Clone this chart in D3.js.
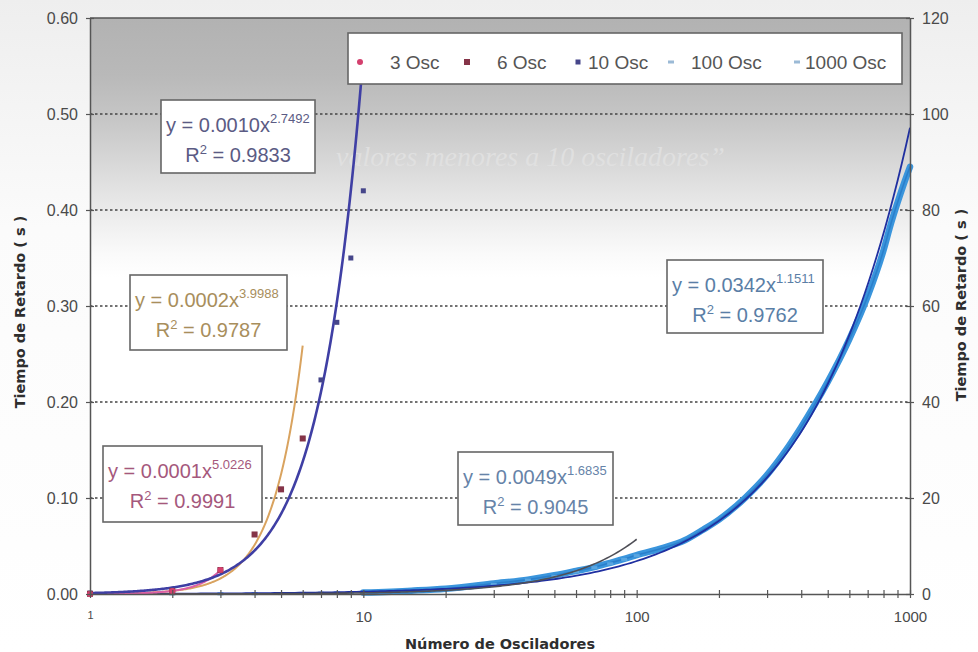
<!DOCTYPE html>
<html>
<head>
<meta charset="utf-8">
<script src="https://cdn.jsdelivr.net/npm/d3@7"></script>
<style>
  body { margin: 0; background: #fff; }
  svg { display: block; }
</style>
</head>
<body>
<svg id="chart" width="978" height="652"></svg>
<script>
// ---- Measured delay time per number of oscillators ----
const seriesNames = ["3 Osc", "6 Osc", "10 Osc", "100 Osc", "1000 Osc"];

// 3, 6 and 10 oscillators: left axis (seconds, 0 - 0.60)
const osc3X = [1, 2, 3];
const osc3Y = [0.0001, 0.003, 0.025];

const osc6X = [1, 2, 3, 4, 5, 6];
const osc6Y = [0.0002, 0.003, 0.025, 0.062, 0.109, 0.162];

const osc10X = [1, 2, 3, 4, 5, 6, 7, 8, 9, 10];
const osc10Y = [0.001, 0.004, 0.025, 0.062, 0.109, 0.162, 0.223, 0.283, 0.350, 0.420];

// 100 and 1000 oscillators: right axis (seconds, 0 - 120)
const osc100X = [1, 2, 3, 4, 5, 6, 7, 8, 9, 10, 20, 30, 40, 50, 60, 70, 80, 90, 100];
const osc100Y = [0.01, 0.02, 0.04, 0.06, 0.09, 0.12, 0.15, 0.19, 0.23, 0.28, 0.9, 2.0, 2.9, 3.7, 4.6, 5.5, 6.3, 7.2, 8.0];

const osc1000X = [10, 15, 20, 30, 40, 50, 60, 70, 80, 90, 100, 125, 150, 175, 200, 250, 300, 350, 400, 450, 500, 600, 700, 800, 850, 900, 950, 1000];
const osc1000Y = [0.3, 0.7, 1.1, 2.2, 3.0, 3.9, 4.8, 5.6, 6.5, 7.3, 8.1, 9.6, 11.2, 13.4, 15.5, 20.1, 24.8, 29.8, 34.8, 39.6, 44.2, 53.1, 62.0, 71.6, 77.0, 81.5, 85.5, 89.0];

// Power trend lines y = a * x^b
const trendCoef = [0.0001, 0.0002, 0.0010, 0.0049, 0.0342];
const trendCoefText = ["0.0001", "0.0002", "0.0010", "0.0049", "0.0342"];
const trendExp = [5.0226, 3.9988, 2.7492, 1.6835, 1.1511];
const trendR2 = [0.9991, 0.9787, 0.9833, 0.9045, 0.9762];

// Axis ticks
const leftTicks = [0, 0.1, 0.2, 0.3, 0.4, 0.5, 0.6];
const rightTicks = [0, 20, 40, 60, 80, 100, 120];
const xLabelTicks = [1, 10, 100, 1000];

const svg = d3.select("#chart");
const W = 978, H = 652;
const L = 90, R = 910, T = 18, B = 594;

const x = d3.scaleLog().domain([1, 1000]).range([L, R]);
const yL = d3.scaleLinear().domain([0, 0.6]).range([B, T]);
const yR = d3.scaleLinear().domain([0, 120]).range([B, T]);

// ---- backgrounds ----
const defs = svg.append("defs");
const pageGrad = defs.append("linearGradient").attr("id", "pageGrad")
  .attr("x1", 0).attr("y1", 0).attr("x2", 0).attr("y2", 1);
pageGrad.append("stop").attr("offset", "0%").attr("stop-color", "#eeeeee");
pageGrad.append("stop").attr("offset", "35%").attr("stop-color", "#fbfbfb");
pageGrad.append("stop").attr("offset", "100%").attr("stop-color", "#ffffff");
svg.append("rect").attr("width", W).attr("height", H).attr("fill", "url(#pageGrad)");

const plotGrad = defs.append("linearGradient").attr("id", "plotGrad")
  .attr("x1", 0).attr("y1", 0).attr("x2", 0).attr("y2", 1);
[["0%", "#b2b2b2"], ["10%", "#b9b9b9"], ["18%", "#c7c7c7"], ["27%", "#dcdcdc"],
 ["35%", "#eeeeee"], ["41%", "#fafafa"], ["45%", "#ffffff"], ["100%", "#ffffff"]]
  .forEach(([o, c]) => plotGrad.append("stop").attr("offset", o).attr("stop-color", c));
svg.append("rect").attr("x", L).attr("y", T).attr("width", R - L).attr("height", B - T)
  .attr("fill", "url(#plotGrad)");

// faint show-through text on the paper
svg.append("text")
  .attr("x", 336).attr("y", 166)
  .attr("font-family", "Liberation Serif, serif")
  .attr("font-style", "italic")
  .attr("font-size", 28)
  .attr("fill", "#e2e2e2")
  .attr("opacity", 0.85)
  .text("valores menores a 10 osciladores”");

// ---- gridlines ----
svg.append("g").selectAll("line")
  .data(leftTicks.filter(v => v > 0 && v < 0.6))
  .join("line")
  .attr("x1", L).attr("x2", R)
  .attr("y1", d => yL(d)).attr("y2", d => yL(d))
  .attr("stroke", "#444").attr("stroke-width", 1.3)
  .attr("stroke-dasharray", "2.5,2.5");

// ---- plot frame ----
svg.append("line").attr("x1", L).attr("x2", R).attr("y1", T).attr("y2", T)
  .attr("stroke", "#555").attr("stroke-width", 1.5);

// ---- 1000 Osc measurements (dense band) ----
const line1000 = d3.line().x((d, i) => x(osc1000X[i])).y(d => yR(d)).curve(d3.curveMonotoneX);
svg.append("path").attr("d", line1000(osc1000Y))
  .attr("fill", "none").attr("stroke", "#3a95dc").attr("stroke-width", 6.5)
  .attr("stroke-linejoin", "round").attr("stroke-linecap", "round");
svg.append("path").attr("d", line1000(osc1000Y))
  .attr("fill", "none").attr("stroke", "#2b7fcb").attr("stroke-width", 1.6);

// ---- 100 Osc markers ----
svg.append("g").selectAll("rect")
  .data(osc100Y)
  .join("rect")
  .attr("x", (d, i) => x(osc100X[i]) - 3).attr("y", d => yR(d) - 1.5)
  .attr("width", 6).attr("height", 3)
  .attr("fill", "#5aa6e0");

// ---- trend lines ----
const trendColors = ["#dc5fa6", "#d9a35f", "#3f3fa4", "#4f4f57", "#1f2fa0"];
const trendWidths = [2, 2, 2.6, 1.6, 1.8];
const trendRange = [[1, 3], [1, 6], [1, 10], [1, 100], [1, 1000]];
const trendScale = [yL, yL, yL, yR, yR];
const trendOrder = [4, 3, 1, 0, 2];
trendOrder.forEach(k => {
  const [x0, x1] = trendRange[k];
  const pts = d3.range(0, 201).map(j => {
    const xv = x0 * Math.pow(x1 / x0, j / 200);
    return [xv, trendCoef[k] * Math.pow(xv, trendExp[k])];
  });
  svg.append("path")
    .attr("d", d3.line().x(p => x(p[0])).y(p => trendScale[k](p[1]))(pts))
    .attr("fill", "none").attr("stroke", trendColors[k]).attr("stroke-width", trendWidths[k]);
});

// ---- markers of the small series ----
svg.append("g").selectAll("rect")
  .data(osc10Y)
  .join("rect")
  .attr("x", (d, i) => x(osc10X[i]) - 2.5).attr("y", d => yL(d) - 2.5)
  .attr("width", 5).attr("height", 5)
  .attr("fill", "#46468a");
svg.append("g").selectAll("rect")
  .data(osc6Y)
  .join("rect")
  .attr("x", (d, i) => x(osc6X[i]) - 3).attr("y", d => yL(d) - 3)
  .attr("width", 6).attr("height", 6)
  .attr("fill", "#853448");
svg.append("g").selectAll("circle")
  .data(osc3Y)
  .join("circle")
  .attr("cx", (d, i) => x(osc3X[i])).attr("cy", d => yL(d))
  .attr("r", 3)
  .attr("fill", "#d4406e");

// ---- axes ----
const tickFont = "Liberation Sans, Arial, sans-serif";
function styleAxis(g, fontSize) {
  g.select(".domain").attr("stroke", "#555").attr("stroke-width", 1.5);
  g.selectAll(".tick line").attr("stroke", "#555").attr("stroke-width", 1.2);
  g.selectAll(".tick text").attr("fill", "#4a4a4a")
    .attr("font-family", tickFont).attr("font-size", fontSize);
}

const gLeft = svg.append("g").attr("transform", `translate(${L},0)`)
  .call(d3.axisLeft(yL).tickValues(leftTicks).tickFormat(d3.format(".2f"))
    .tickSizeInner(4).tickSizeOuter(0).tickPadding(8));
gLeft.selectAll(".tick line").attr("x1", 4);
styleAxis(gLeft, 16);

const gRight = svg.append("g").attr("transform", `translate(${R},0)`)
  .call(d3.axisRight(yR).tickValues(rightTicks).tickFormat(d3.format("d"))
    .tickSizeInner(4).tickSizeOuter(0).tickPadding(8));
gRight.selectAll(".tick line").attr("x1", -4);
styleAxis(gRight, 16);

const gBottom = svg.append("g").attr("transform", `translate(0,${B})`)
  .call(d3.axisBottom(x).tickValues(x.ticks())
    .tickFormat(d => xLabelTicks.includes(d) ? d3.format("d")(d) : "")
    .tickSizeInner(4).tickSizeOuter(0).tickPadding(13));
gBottom.selectAll(".tick line").attr("y1", -4);
styleAxis(gBottom, 15);
gBottom.selectAll(".tick text").filter(d => d === 1).attr("font-size", 11);

// ---- axis titles ----
const titleFont = "DejaVu Sans, Verdana, sans-serif";
svg.append("text")
  .attr("x", 500).attr("y", 649)
  .attr("text-anchor", "middle")
  .attr("font-family", titleFont).attr("font-weight", "bold").attr("font-size", 14.5)
  .attr("fill", "#2e2e2e")
  .text("Número de Osciladores");
svg.append("text")
  .attr("transform", "translate(25,312) rotate(-90)")
  .attr("text-anchor", "middle")
  .attr("font-family", titleFont).attr("font-weight", "bold").attr("font-size", 14.5)
  .attr("fill", "#2e2e2e")
  .text("Tiempo de Retardo ( s )");
svg.append("text")
  .attr("transform", "translate(966,305) rotate(-90)")
  .attr("text-anchor", "middle")
  .attr("font-family", titleFont).attr("font-weight", "bold").attr("font-size", 14.5)
  .attr("fill", "#2e2e2e")
  .text("Tiempo de Retardo ( s )");

// ---- trend equation labels ----
const labelBoxes = [
  { x: 103, y: 446, w: 159, h: 76 },
  { x: 130, y: 275, w: 157, h: 75 },
  { x: 161, y: 100, w: 154, h: 73 },
  { x: 458, y: 452, w: 155, h: 73 },
  { x: 667, y: 260, w: 156, h: 73 }
];
const labelColors = ["#a5587c", "#a88e5c", "#5b5b84", "#6683a8", "#5a7ea6"];
const labelFont = "Liberation Sans, Arial, sans-serif";
labelBoxes.forEach((b, k) => {
  const g = svg.append("g");
  g.append("rect").attr("x", b.x).attr("y", b.y).attr("width", b.w).attr("height", b.h)
    .attr("fill", "#fff").attr("stroke", "#666").attr("stroke-width", 1.6);
  const t1 = g.append("text").attr("x", b.x + 5).attr("y", b.y + 32)
    .attr("font-family", labelFont).attr("font-size", 20).attr("fill", labelColors[k]);
  t1.append("tspan").text(`y = ${trendCoefText[k]}x`);
  t1.append("tspan").attr("dy", -9).attr("font-size", 13).text(trendExp[k].toFixed(4));
  const t2 = g.append("text").attr("x", b.x + b.w / 2).attr("y", b.y + 62)
    .attr("text-anchor", "middle")
    .attr("font-family", labelFont).attr("font-size", 20).attr("fill", labelColors[k]);
  t2.append("tspan").text("R");
  t2.append("tspan").attr("dy", -8).attr("font-size", 13).text("2");
  t2.append("tspan").attr("dy", 8).text(` = ${trendR2[k].toFixed(4)}`);
});

// ---- legend ----
const legend = svg.append("g");
legend.append("rect").attr("x", 348).attr("y", 33).attr("width", 554).attr("height", 51)
  .attr("fill", "#fff").attr("stroke", "#666").attr("stroke-width", 1.6);
const legMarkX = [360, 467, 578, 671, 797];
const legTextX = [390, 497, 588, 691, 805];
seriesNames.forEach((name, k) => {
  const mx = legMarkX[k], my = 62;
  if (k === 0) {
    legend.append("circle").attr("cx", mx).attr("cy", my).attr("r", 3).attr("fill", "#d4406e");
  } else if (k === 1) {
    legend.append("rect").attr("x", mx - 3).attr("y", my - 3).attr("width", 6).attr("height", 6).attr("fill", "#853448");
  } else if (k === 2) {
    legend.append("rect").attr("x", mx - 2.5).attr("y", my - 2.5).attr("width", 5).attr("height", 5).attr("fill", "#46468a");
  } else {
    legend.append("rect").attr("x", mx - 3).attr("y", my - 1.5).attr("width", 6).attr("height", 3).attr("fill", "#9bbad6");
  }
  legend.append("text").attr("x", legTextX[k]).attr("y", 69)
    .attr("font-family", labelFont).attr("font-size", 19).attr("fill", "#555")
    .text(name);
});
</script>
</body>
</html>
